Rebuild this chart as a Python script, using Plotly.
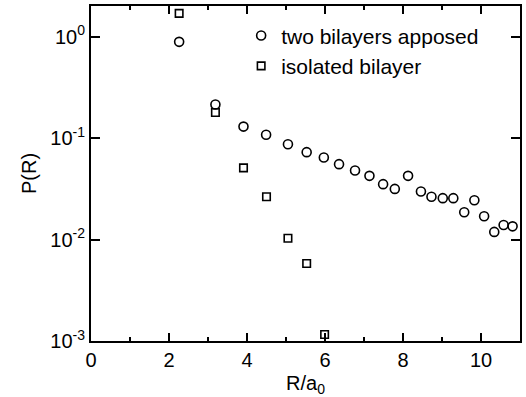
import plotly.graph_objects as go

# two bilayers apposed
r_apposed = [2.26, 3.19, 3.91, 4.49, 5.05, 5.53, 5.97, 6.36, 6.77, 7.14, 7.49, 7.79,
             8.13, 8.46, 8.73, 9.02, 9.29, 9.57, 9.83, 10.08, 10.34, 10.58, 10.81]
p_apposed = [0.89, 0.215, 0.130, 0.108, 0.087, 0.0728, 0.0645, 0.0554, 0.048, 0.0425,
             0.0352, 0.0316, 0.0425, 0.0298, 0.0264, 0.0256, 0.0256, 0.0186, 0.0244,
             0.017, 0.0119, 0.0139, 0.0135]

# isolated bilayer
r_isolated = [2.26, 3.19, 3.91, 4.50, 5.05, 5.53, 5.99]
p_isolated = [1.70, 0.179, 0.0509, 0.0264, 0.0103, 0.0058, 0.00116]

y_tickvals = [1e-3, 1e-2, 1e-1, 1]
y_ticktext = ["10<sup>-3</sup>", "10<sup>-2</sup>", "10<sup>-1</sup>", "10<sup>0</sup>"]
x_tickvals = [0, 2, 4, 6, 8, 10]

FONT = "Arial, 'Liberation Sans', sans-serif"

fig = go.Figure()
fig.add_trace(go.Scatter(
    x=r_apposed, y=p_apposed, mode="markers", name="two bilayers apposed",
    marker=dict(symbol="circle-open", size=9, color="black", line=dict(width=1.6, color="black")),
))
fig.add_trace(go.Scatter(
    x=r_isolated, y=p_isolated, mode="markers", name="isolated bilayer",
    marker=dict(symbol="square-open", size=7.5, color="black", line=dict(width=1.6, color="black")),
))

fig.update_layout(
    width=526, height=397,
    margin=dict(l=91, r=4, t=6, b=56),
    paper_bgcolor="white", plot_bgcolor="white",
    font=dict(family=FONT, size=20, color="black"),
    showlegend=True,
    legend=dict(x=0.35, y=0.972, xanchor="left", yanchor="top",
                bgcolor="rgba(0,0,0,0)", borderwidth=0,
                font=dict(family=FONT, size=21, color="black"),
                itemwidth=30, tracegroupgap=0),
    xaxis=dict(
        range=[0, 11], tickvals=x_tickvals, ticks="inside", ticklen=8, tickwidth=2,
        tickcolor="black", showline=True, linewidth=2, linecolor="black", mirror="ticks",
        showgrid=False, zeroline=False,
        minor=dict(dtick=1, ticks="inside", ticklen=4, tickwidth=2, tickcolor="black", showgrid=False),
        title=dict(text="R/a<sub>0</sub>", standoff=6, font=dict(size=20)),
        tickfont=dict(size=20),
    ),
    yaxis=dict(
        type="log", range=[-3, 0.303], tickvals=y_tickvals, ticktext=y_ticktext,
        ticks="inside", ticklen=9, tickwidth=2, tickcolor="black",
        showline=True, linewidth=2, linecolor="black", mirror="ticks",
        showgrid=False, zeroline=False,
        title=dict(text="P(R)", standoff=8, font=dict(size=20)),
        tickfont=dict(size=20),
    ),
)

fig.write_html("out.html", config={"displayModeBar": False},
               post_script="document.body.style.margin='0';document.body.style.padding='0';")
